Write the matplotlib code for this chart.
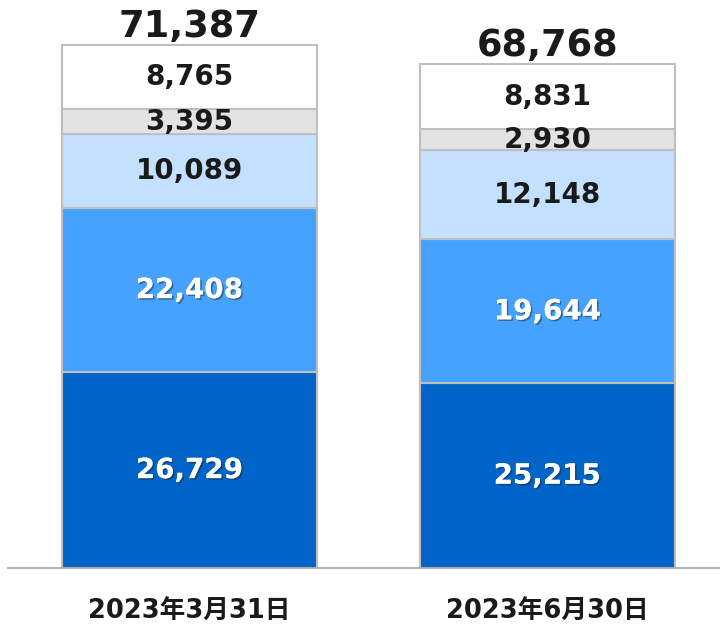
import matplotlib.pyplot as plt
import matplotlib.patheffects as pe

# データ
dates = ['2023年3月31日', '2023年6月30日']
seg1 = [26729, 25215]   # 濃い青
seg2 = [22408, 19644]   # 青
seg3 = [10089, 12148]   # 水色
seg4 = [3395, 2930]     # グレー
seg5 = [8765, 8831]     # 白
totals = [71387, 68768]

colors = ['#0064C8', '#46A2FF', '#C3E0FF', '#E3E3E3', '#FFFFFF']
text_colors = ['white', 'white', '#1a1a1a', '#1a1a1a', '#1a1a1a']

plt.rcParams['font.family'] = ['DejaVu Sans']

fig = plt.figure(figsize=(7.2, 6.25), dpi=100)
ax = fig.add_axes([8 / 720, 57 / 625, 712 / 720, 568 / 625])

x = [0, 1]
width = 0.712
bottom = [0, 0]
shadow = [pe.withSimplePatchShadow(offset=(1.2, -1.2), shadow_rgbFace='#222222', alpha=0.45), pe.Normal()]

for vals, c, tc in zip([seg1, seg2, seg3, seg4, seg5], colors, text_colors):
    ax.bar(x, vals, width, bottom=bottom, color=c, edgecolor='#BFBFBF', linewidth=1.5, zorder=2)
    for i, v in enumerate(vals):
        t = ax.text(x[i], bottom[i] + v / 2, f'{v:,}', ha='center', va='center',
                    fontsize=20, fontweight='bold', color=tc, zorder=3)
        if tc == 'white':
            t.set_path_effects(shadow)
    bottom = [b + v for b, v in zip(bottom, vals)]

for i, tot in enumerate(totals):
    ax.annotate(f'{tot:,}', (x[i], bottom[i]), xytext=(0, 0), textcoords='offset points',
                ha='center', va='bottom', fontsize=26.5, fontweight='bold', color='#1a1a1a')

ax.set_xlim(-0.507, 1.482)
ax.set_ylim(0, 568 * 71387 / 523)
ax.set_xticks(x)
ax.set_xticklabels(dates, family=['DejaVu Sans', 'Noto Sans CJK JP'], fontsize=18.5,
                   fontweight='bold', color='#1a1a1a')
ax.tick_params(axis='x', length=0, pad=22)
ax.set_yticks([])
for s in ['top', 'right', 'left']:
    ax.spines[s].set_visible(False)
ax.spines['bottom'].set_color('#A6A6A6')
ax.spines['bottom'].set_linewidth(1.2)

plt.savefig('out.png', dpi=100)
